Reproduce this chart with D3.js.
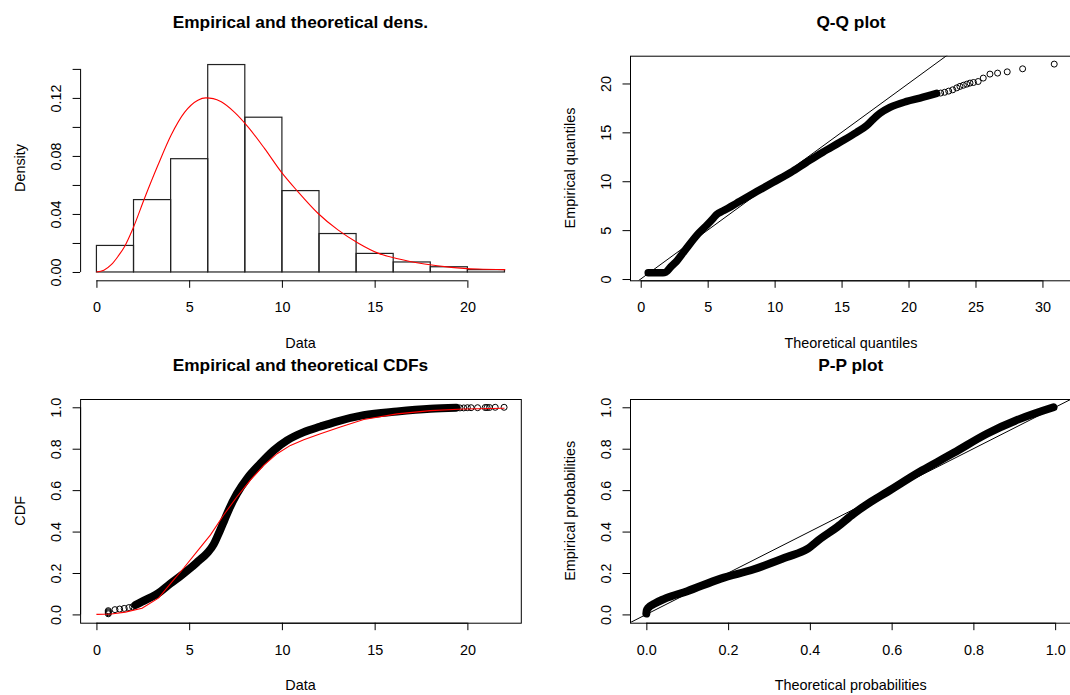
<!DOCTYPE html>
<html>
<head>
<meta charset="utf-8">
<script src="https://cdn.jsdelivr.net/npm/d3@7"></script>
<style>
  html, body { margin: 0; padding: 0; background: #fff; }
  svg { display: block; font-family: "Liberation Sans", Arial, Helvetica, sans-serif; }
</style>
</head>
<body>
<svg id="fig" width="1070" height="695"></svg>
<script>
// ---------- Histogram + fitted density ----------
const histBreaks  = [0, 2, 4, 6, 8, 10, 12, 14, 16, 18, 20, 22];
const histDensity = [0.0183, 0.0499, 0.0781, 0.1430, 0.1067, 0.0561, 0.0265, 0.0128, 0.0069, 0.0036, 0.0016];
const densX = [0, 0.4, 0.8, 1.16, 1.52, 1.97, 2.6, 3.32, 4.03, 4.75, 5.47, 5.9, 6.3, 6.73, 7.45, 8.17, 9.07, 9.96, 10.86, 11.94, 13.02, 14.1, 15.18, 16.25, 17.69, 19.13, 20.57, 22.04];
const densY = [0, 0.0012, 0.005, 0.0107, 0.0176, 0.030, 0.051, 0.0737, 0.0944, 0.110, 0.1184, 0.1200, 0.1195, 0.1173, 0.110, 0.100, 0.085, 0.069, 0.0554, 0.0405, 0.029, 0.020, 0.013, 0.0091, 0.0055, 0.0032, 0.0020, 0.0016];
const histXTicks = [0, 5, 10, 15, 20];
const histXLabels = ["0", "5", "10", "15", "20"];
const histYTicks = [0, 0.02, 0.04, 0.06, 0.08, 0.10, 0.12, 0.14];
const histYLabels = ["0.00", "", "0.04", "", "0.08", "", "0.12", ""];

// ---------- Q-Q plot ----------
// dense run of points (theoretical, empirical)
const qqBandTheo = [0.56, 1.0, 1.5, 1.8, 2.0, 2.23, 2.6, 3.3, 4.29, 5.0, 5.44, 5.67, 6.2, 7.16, 7.41, 8.66, 9.9, 11.2, 12.39, 13.6, 14.88, 16.12, 16.87, 17.4, 17.87, 18.61, 19.86, 20.85, 22.1];
const qqBandEmp  = [0.65, 0.65, 0.65, 0.67, 0.85, 1.22, 1.7, 2.93, 4.63, 5.6, 6.25, 6.6, 7.0, 7.76, 7.96, 8.94, 9.9, 10.9, 11.94, 12.97, 13.98, 15.0, 15.68, 16.4, 16.95, 17.55, 18.16, 18.5, 18.98];
// upper tail, drawn point by point
const qqTailTheo = [22.4, 22.7, 23.0, 23.3, 23.6, 23.84, 24.1, 24.35, 24.59, 24.85, 25.2, 25.58, 26.08, 26.65, 27.37, 28.52, 30.88];
const qqTailEmp  = [19.02, 19.1, 19.22, 19.35, 19.55, 19.7, 19.82, 19.93, 20.04, 20.1, 20.2, 20.55, 20.96, 21.06, 21.19, 21.5, 21.98];
const qqXTicks = [0, 5, 10, 15, 20, 25, 30];
const qqYTicks = [0, 5, 10, 15, 20];
const refLine = [0, 1]; // intercept, slope

// ---------- Empirical vs theoretical CDF ----------
const cdfLowX  = [0.64, 0.64, 0.64, 0.64, 1.0, 1.25, 1.5, 1.75, 1.95];
const cdfLowF  = [0.003, 0.008, 0.013, 0.018, 0.023, 0.026, 0.029, 0.033, 0.037];
const cdfBandX = [2.1, 2.46, 3.0, 3.36, 4.0, 4.5, 5.07, 5.5, 5.97, 6.32, 6.5, 6.68, 6.9, 7.13, 7.58, 8.12, 8.84, 9.56, 10.28, 11.18, 12.08, 12.9, 14.41, 16.21, 18.0, 19.4];
const cdfBandF = [0.045, 0.062, 0.085, 0.104, 0.15, 0.183, 0.224, 0.258, 0.296, 0.338, 0.372, 0.408, 0.455, 0.504, 0.584, 0.656, 0.728, 0.792, 0.84, 0.88, 0.907, 0.93, 0.962, 0.98, 0.993, 0.998];
const cdfTailX = [19.6, 19.8, 20.0, 20.2, 20.55, 20.96, 21.06, 21.19, 21.5, 21.98];
const cdfTailF = [0.997, 0.997, 0.998, 0.998, 0.998, 0.999, 0.999, 0.999, 1.0, 1.0];
const cdfTheoX = [0, 0.8, 1.56, 2.46, 3.36, 4.05, 4.71, 5.43, 6.15, 6.86, 7.58, 8.30, 9.02, 9.74, 10.46, 11.18, 12.08, 13.15, 14.41, 16.21, 18.0, 19.8, 22.0];
const cdfTheoF = [0, 0.002, 0.011, 0.03, 0.08, 0.155, 0.224, 0.304, 0.384, 0.48, 0.568, 0.648, 0.72, 0.776, 0.816, 0.843, 0.872, 0.905, 0.941, 0.968, 0.984, 0.992, 0.995];
const cdfYTicks = [0, 0.2, 0.4, 0.6, 0.8, 1.0];
const cdfYLabels = ["0.0", "0.2", "0.4", "0.6", "0.8", "1.0"];

// ---------- P-P plot ----------
const ppBandTheo = [0.0, 0.001, 0.004, 0.02, 0.043, 0.1, 0.182, 0.263, 0.344, 0.393, 0.426, 0.467, 0.507, 0.548, 0.589, 0.670, 0.711, 0.752, 0.833, 0.914, 0.996];
const ppBandEmp  = [0.004, 0.02, 0.03, 0.052, 0.074, 0.112, 0.173, 0.218, 0.277, 0.315, 0.366, 0.422, 0.486, 0.542, 0.591, 0.690, 0.735, 0.780, 0.872, 0.944, 1.0];
const ppTicks = [0, 0.2, 0.4, 0.6, 0.8, 1.0];
const ppLabels = ["0.0", "0.2", "0.4", "0.6", "0.8", "1.0"];

// ------------------------------------------------------------
const svg = d3.select("#fig");
const FS = 14.4;     // axis text size
const TFS = 17.3;    // title size
const TICK = 7.5;
let clipId = 0;

function makePanel(o) {
  const x = d3.scaleLinear().domain(o.xDomain).range([o.left, o.right]);
  const y = d3.scaleLinear().domain(o.yDomain).range([o.bottom, o.top]);

  // bottom axis
  const gx = svg.append("g")
    .attr("transform", `translate(0,${o.bottom})`)
    .call(d3.axisBottom(x).tickValues(o.xTicks)
      .tickFormat((d, i) => o.xLabels[i]).tickSize(TICK).tickSizeOuter(0));
  gx.attr("font-size", null).attr("font-family", null);
  gx.select(".domain").remove();
  gx.append("line")
    .attr("x1", x(o.xTicks[0])).attr("x2", x(o.xTicks[o.xTicks.length - 1]))
    .attr("y1", 0.5).attr("y2", 0.5).attr("stroke", "#000");
  gx.selectAll(".tick line").attr("stroke", "#000");
  gx.selectAll(".tick text").attr("y", 32).attr("dy", null)
    .attr("font-size", FS).attr("fill", "#000");

  // left axis
  const gy = svg.append("g")
    .attr("transform", `translate(${o.left},0)`)
    .call(d3.axisLeft(y).tickValues(o.yTicks)
      .tickFormat((d, i) => o.yLabels[i]).tickSize(TICK).tickSizeOuter(0));
  gy.attr("font-size", null).attr("font-family", null);
  gy.select(".domain").remove();
  gy.append("line")
    .attr("x1", 0.5).attr("x2", 0.5)
    .attr("y1", y(o.yTicks[0])).attr("y2", y(o.yTicks[o.yTicks.length - 1]))
    .attr("stroke", "#000");
  gy.selectAll(".tick line").attr("stroke", "#000");
  gy.selectAll(".tick text").attr("x", 0).attr("dy", null)
    .attr("text-anchor", "middle")
    .attr("transform", "translate(-19.5,0) rotate(-90)")
    .attr("font-size", FS).attr("fill", "#000");

  if (o.box) {
    svg.append("rect")
      .attr("x", o.left + 0.5).attr("y", o.top + 0.5)
      .attr("width", o.right - o.left).attr("height", o.bottom - o.top)
      .attr("fill", "none").attr("stroke", "#000");
  }

  const cx = (o.left + o.right) / 2;
  svg.append("text").attr("x", cx).attr("y", o.top - 27.7)
    .attr("text-anchor", "middle").attr("font-weight", "bold")
    .attr("font-size", TFS).text(o.title);
  svg.append("text").attr("x", cx).attr("y", o.bottom + 67.2)
    .attr("text-anchor", "middle").attr("font-size", FS).text(o.xlab);
  svg.append("text")
    .attr("transform", `translate(${o.left - 55.5},${(o.top + o.bottom) / 2}) rotate(-90)`)
    .attr("text-anchor", "middle").attr("font-size", FS).text(o.ylab);

  const id = "clip" + (clipId++);
  svg.append("clipPath").attr("id", id).append("rect")
    .attr("x", o.left).attr("y", o.top)
    .attr("width", o.right - o.left).attr("height", o.bottom - o.top);
  const plot = svg.append("g").attr("clip-path", `url(#${id})`);
  return { x, y, plot };
}

function pairs(xs, ys) { return xs.map((v, i) => [v, ys[i]]); }

// a run of heavily overlapping open circles reads as a solid thick stroke
function band(p, xs, ys, w) {
  p.plot.append("path")
    .attr("d", d3.line().curve(d3.curveMonotoneX)
      .x(d => p.x(d[0])).y(d => p.y(d[1]))(pairs(xs, ys)))
    .attr("fill", "none").attr("stroke", "#000").attr("stroke-width", w)
    .attr("stroke-linecap", "round").attr("stroke-linejoin", "round");
}
function circles(p, xs, ys) {
  p.plot.selectAll(null).data(pairs(xs, ys)).enter().append("circle")
    .attr("cx", d => p.x(d[0])).attr("cy", d => p.y(d[1])).attr("r", 3)
    .attr("fill", "none").attr("stroke", "#000").attr("stroke-width", 1);
}
function refAbline(p, dom) {
  p.plot.append("line")
    .attr("x1", p.x(dom[0])).attr("y1", p.y(refLine[0] + refLine[1] * dom[0]))
    .attr("x2", p.x(dom[1])).attr("y2", p.y(refLine[0] + refLine[1] * dom[1]))
    .attr("stroke", "#000").attr("stroke-width", 1);
}

// ---- top left: histogram ----
const p1 = makePanel({
  left: 80.1, right: 520.8, top: 55.7, bottom: 280.3,
  xDomain: [-0.88, 22.88], yDomain: [-0.00574, 0.1491],
  xTicks: histXTicks, xLabels: histXLabels,
  yTicks: histYTicks, yLabels: histYLabels,
  title: "Empirical and theoretical dens.", xlab: "Data", ylab: "Density", box: false
});
p1.plot.selectAll(null).data(histDensity).enter().append("rect")
  .attr("x", (d, i) => p1.x(histBreaks[i]))
  .attr("width", (d, i) => p1.x(histBreaks[i + 1]) - p1.x(histBreaks[i]))
  .attr("y", d => p1.y(d))
  .attr("height", d => p1.y(0) - p1.y(d))
  .attr("fill", "none").attr("stroke", "#222").attr("stroke-width", 1.2);
p1.plot.append("path")
  .attr("d", d3.line().curve(d3.curveMonotoneX).x(d => p1.x(d[0])).y(d => p1.y(d[1]))(pairs(densX, densY)))
  .attr("fill", "none").attr("stroke", "#ff0000").attr("stroke-width", 1.1);

// ---- top right: Q-Q ----
const p2 = makePanel({
  left: 630, right: 1071.9, top: 55.7, bottom: 280.3,
  xDomain: [-0.8, 32.2], yDomain: [-0.13, 22.84],
  xTicks: qqXTicks, xLabels: qqXTicks.map(String),
  yTicks: qqYTicks, yLabels: qqYTicks.map(String),
  title: "Q-Q plot", xlab: "Theoretical quantiles", ylab: "Empirical quantiles", box: true
});
band(p2, qqBandTheo, qqBandEmp, 7.5);
circles(p2, qqTailTheo, qqTailEmp);
refAbline(p2, [-0.8, 32.2]);

// ---- bottom left: CDFs ----
const p3 = makePanel({
  left: 80.1, right: 520.8, top: 399, bottom: 622.7,
  xDomain: [-0.88, 22.88], yDomain: [-0.04, 1.04],
  xTicks: histXTicks, xLabels: histXLabels,
  yTicks: cdfYTicks, yLabels: cdfYLabels,
  title: "Empirical and theoretical CDFs", xlab: "Data", ylab: "CDF", box: true
});
circles(p3, cdfLowX, cdfLowF);
band(p3, cdfBandX, cdfBandF, 8);
circles(p3, cdfTailX, cdfTailF);
p3.plot.append("path")
  .attr("d", d3.line().x(d => p3.x(d[0])).y(d => p3.y(d[1]))(pairs(cdfTheoX, cdfTheoF)))
  .attr("fill", "none").attr("stroke", "#ff0000").attr("stroke-width", 1.1);

// ---- bottom right: P-P ----
const p4 = makePanel({
  left: 630, right: 1071.5, top: 399, bottom: 622.7,
  xDomain: [-0.04, 1.04], yDomain: [-0.04, 1.04],
  xTicks: ppTicks, xLabels: ppLabels,
  yTicks: ppTicks, yLabels: ppLabels,
  title: "P-P plot", xlab: "Theoretical probabilities", ylab: "Empirical probabilities", box: true
});
band(p4, ppBandTheo, ppBandEmp, 8);
refAbline(p4, [-0.04, 1.04]);
</script>
</body>
</html>
